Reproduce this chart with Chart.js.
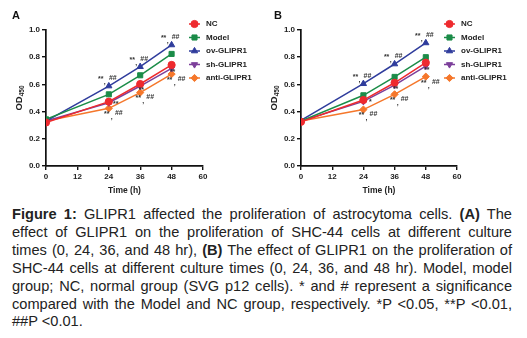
<!DOCTYPE html>
<html>
<head>
<meta charset="utf-8">
<script src="https://cdn.jsdelivr.net/npm/chart.js@4"></script>
<style>
  body { margin:0; background:#fff; }
  #page { position:relative; width:527px; height:338px; overflow:hidden; background:#fff; }
  canvas { position:absolute; top:0; }
  .tag { position:absolute; top:9px; font:bold 11px "Liberation Sans", Arial, sans-serif; color:#111; }
  #caption { position:absolute; left:12px; top:206px; width:500px; color:#222;
    font:14.6px/17.9px "Liberation Sans", Arial, sans-serif; }
  #caption div { text-align:justify; text-align-last:justify; }
  #caption div.last { text-align-last:left; }
</style>
</head>
<body>
<div id="page">
  <canvas id="chartA" width="263" height="200" style="left:0px"></canvas>
  <canvas id="chartB" width="263" height="200" style="left:255px"></canvas>
  <div class="tag" style="left:12px">A</div>
  <div class="tag" style="left:274px">B</div>
  <div id="caption">
    <div><b>Figure 1:</b> GLIPR1 affected the proliferation of astrocytoma cells. <b>(A)</b> The</div>
    <div>effect of GLIPR1 on the proliferation of SHC-44 cells at different culture</div>
    <div>times (0, 24, 36, and 48 hr), <b>(B)</b> The effect of GLIPR1 on the proliferation of</div>
    <div>SHC-44 cells at different culture times (0, 24, 36, and 48 hr). Model, model</div>
    <div>group; NC, normal group (SVG p12 cells). * and # represent a significance</div>
    <div>compared with the Model and NC group, respectively. *P &lt;0.05, **P &lt;0.01,</div>
    <div class="last">##P &lt;0.01.</div>
  </div>
</div>
<script>
// time points and axis ticks
const hours = [0, 24, 36, 48];
const xTicks = [0, 12, 24, 36, 48, 60];
const yTicks = [0, 0.2, 0.4, 0.6, 0.8, 1.0];
const yTickLabels = ['0.0', '0.2', '0.4', '0.6', '0.8', '1.0'];
const groups = ['NC', 'Model', 'ov-GLIPR1', 'sh-GLIPR1', 'anti-GLIPR1'];

// panel A values (OD450)
const ncA    = [0.32, 0.473, 0.603, 0.743];
const modelA = [0.343, 0.527, 0.667, 0.824];
const ovA    = [0.33, 0.588, 0.73, 0.89];
const shA    = [0.33, 0.465, 0.588, 0.718];
const antiA  = [0.33, 0.424, 0.54, 0.676];

// panel B values (OD450)
const ncB    = [0.325, 0.485, 0.612, 0.76];
const modelB = [0.33, 0.52, 0.655, 0.80];
const ovB    = [0.335, 0.605, 0.75, 0.905];
const shB    = [0.33, 0.475, 0.595, 0.735];
const antiB  = [0.33, 0.415, 0.527, 0.657];

// significance marks
const ovSigA   = ['', '**,##', '**,##', '**,##'];
const shSigA   = ['', '**', '**', '**'];
const antiSigA = ['', '**,##', '**,##', '**,##'];
const ovSigB   = ['', '**,##', '**,##', '**,##'];
const shSigB   = ['', '*', '**', '**'];
const antiSigB = ['', '**,##', '**,##', '**,##'];

const FONT = '"Liberation Sans", Arial, sans-serif';
const colors = ['#ee2a2e', '#1b8c48', '#2f3c9c', '#7c3f9a', '#f5772b'];
const styles = ['circle', 'rect', 'triangle', 'triangle', 'rectRot'];
const rots = [0, 0, 0, 180, 0];
const sigPos = [null, null, 'up', 'side', 'down'];

function mkData(vals) {
  return hours.map((h, i) => ({x: h, y: vals[i]}));
}

// star/hash labels beside the points
const sigPlugin = {
  id: 'sigMarks',
  afterDatasetsDraw(chart) {
    const ctx = chart.ctx;
    ctx.save();
    ctx.font = 'bold 7px ' + FONT;
    ctx.fillStyle = '#333';
    ctx.textAlign = 'center';
    ctx.textBaseline = 'middle';
    chart.data.datasets.forEach((ds, i) => {
      if (!ds.sig) return;
      const meta = chart.getDatasetMeta(i);
      ds.sig.forEach((txt, j) => {
        if (!txt) return;
        const p = meta.data[j];
        const parts = txt.split(',');
        if (ds.sigPos === 'side') {
          if (j === 1) ctx.fillText(parts[0], p.x + 7, p.y + 1);
          else ctx.fillText(parts[0], p.x + 1, p.y + 4);
          return;
        }
        let s, c, h;
        if (ds.sigPos === 'up') { s = [-8, -7]; c = [-4, -4]; h = [4, -8]; }
        else { s = [-2, 6]; c = [3, 9]; h = [10, 5]; }
        ctx.fillText(parts[0], p.x + s[0], p.y + s[1]);
        ctx.fillText(',', p.x + c[0], p.y + c[1]);
        ctx.fillText(parts[1], p.x + h[0], p.y + h[1]);
      });
    });
    ctx.restore();
  }
};

// legend overlapping the top right corner + y title with subscript
const extrasPlugin = {
  id: 'extras',
  afterDraw(chart) {
    const ctx = chart.ctx;
    ctx.save();
    ctx.font = 'bold 8px ' + FONT;
    ctx.textBaseline = 'middle';
    ctx.textAlign = 'left';
    chart.data.datasets.forEach((ds, i) => {
      const y = 24 + i * 13.5;
      ctx.strokeStyle = ds.borderColor;
      ctx.lineWidth = 1.5;
      ctx.beginPath(); ctx.moveTo(189, y); ctx.lineTo(200, y); ctx.stroke();
      ctx.fillStyle = ds.backgroundColor;
      ctx.strokeStyle = ds.borderColor;
      ctx.lineWidth = 1;
      Chart.helpers.drawPoint(ctx, {pointStyle: ds.pointStyle, rotation: ds.pointRotation || 0, radius: 3.6, borderWidth: 1}, 194.5, y);
      ctx.fillStyle = '#222';
      ctx.fillText(ds.label, 206, y);
    });
    // OD450
    const ya = chart.chartArea;
    ctx.translate(19, (ya.top + ya.bottom) / 2);
    ctx.rotate(-Math.PI / 2);
    ctx.fillStyle = '#222';
    ctx.font = 'bold 9.5px ' + FONT;
    const w1 = ctx.measureText('OD').width;
    ctx.font = 'bold 6.5px ' + FONT;
    const w2 = ctx.measureText('450').width;
    let x0 = -(w1 + w2) / 2;
    ctx.font = 'bold 9.5px ' + FONT;
    ctx.fillText('OD', x0, 0);
    ctx.font = 'bold 6.5px ' + FONT;
    ctx.fillText('450', x0 + w1, 3);
    ctx.restore();
  }
};

function makeChart(id, series, sigs, padRight) {
  const datasets = series.map((vals, i) => ({
    label: groups[i],
    data: mkData(vals),
    borderColor: colors[i],
    backgroundColor: colors[i],
    borderWidth: 1.5,
    pointStyle: styles[i],
    pointRotation: rots[i],
    pointRadius: 3.6,
    pointBorderWidth: 1,
    tension: 0,
    sig: sigs[i],
    sigPos: sigPos[i]
  }));
  const tickFont = {family: FONT, size: 8, weight: 'bold'};
  return new Chart(document.getElementById(id), {
    type: 'line',
    data: {datasets: datasets},
    options: {
      responsive: false,
      animation: false,
      devicePixelRatio: 1,
      layout: {padding: {top: 30, right: padRight, bottom: 0, left: 0}},
      plugins: {legend: {display: false}, tooltip: {enabled: false}},
      scales: {
        x: {
          type: 'linear', min: 0, max: 60,
          afterBuildTicks: s => { s.ticks = xTicks.map(v => ({value: v})); },
          afterFit: s => { s.height = 34; },
          ticks: {font: tickFont, color: '#222', padding: 2, maxRotation: 0, autoSkip: false},
          grid: {drawOnChartArea: false, drawTicks: true, tickLength: 4, color: '#111', lineWidth: 1.4},
          border: {color: '#111', width: 1.7},
          title: {display: true, text: 'Time (h)', color: '#222', font: {family: FONT, size: 8.5, weight: 'bold'}, padding: {top: 0, bottom: 4}}
        },
        y: {
          min: 0, max: 1,
          afterBuildTicks: s => { s.ticks = yTicks.map(v => ({value: v})); },
          afterFit: s => { s.width = 46; },
          ticks: {font: tickFont, color: '#222', padding: 2, autoSkip: false, callback: (v, i) => yTickLabels[i]},
          grid: {drawOnChartArea: false, drawTicks: true, tickLength: 4, color: '#111', lineWidth: 1.4},
          border: {color: '#111', width: 1.7}
        }
      }
    },
    plugins: [sigPlugin, extrasPlugin]
  });
}

makeChart('chartA', [ncA, modelA, ovA, shA, antiA], [null, null, ovSigA, shSigA, antiSigA], 60);
makeChart('chartB', [ncB, modelB, ovB, shB, antiB], [null, null, ovSigB, shSigB, antiSigB], 61);
</script>
</body>
</html>
